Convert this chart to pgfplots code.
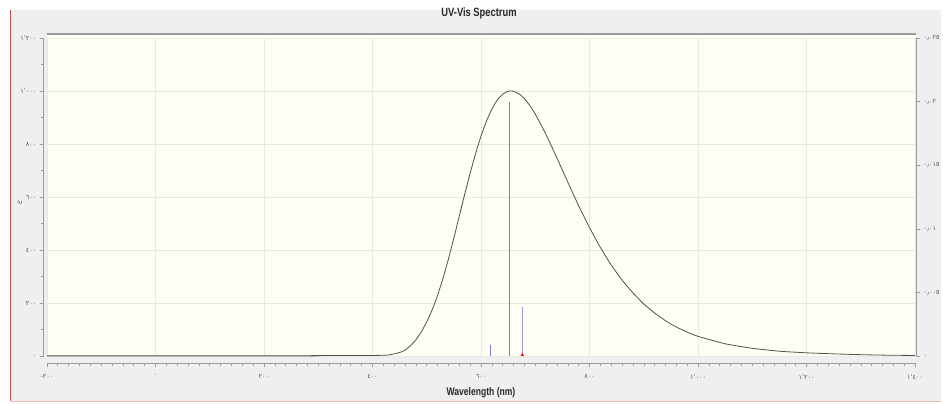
\documentclass[border=0pt]{standalone}
\usepackage{fontspec}
\usepackage{pgfplots}
\pgfplotsset{compat=1.18}
\setmainfont{Liberation Sans}
\newfontfamily\arfont{DejaVu Sans}
\newfontfamily\condfont[FakeStretch=0.78]{Liberation Sans}

\definecolor{framebg}{HTML}{EFEFF1}
\definecolor{plotbg}{HTML}{FEFEF4}
\definecolor{axisgray}{HTML}{9A9A9A}
\definecolor{gridc}{HTML}{E9E9DF}
\definecolor{labelgray}{HTML}{555555}
\definecolor{curvec}{HTML}{505050}
\definecolor{stickblue}{HTML}{7C7CC6}
\definecolor{sticklight}{HTML}{9C9CD4}

% spectrum: wavelength (nm), epsilon
\pgfplotstableread{
wl eps
-200 1.5
286 1.5
288 3
400 3
430 5
450 14
460 23
470 40
480 62
490 92
500 130
510 175
520 230
530 294
540 367
550 446
560 529
570 611
580 690
590 764
600 830
610 886
620 932
630 966
640 988
650 999
655 1000
660 999
670 989
680 971
690 945
700 913
720 835
740 747
760 656
780 567
800 485
820 410
840 344
860 287
880 239
900 197
920 163
940 134
960 110
980 91
1000 75
1050 47
1100 30
1150 19
1200 13
1250 9
1300 6
1350 4
1400 3
}\spectrum

\begin{document}
\begin{tikzpicture}[x=1pt,y=1pt]
% window background
\fill[white] (0,0) rectangle (943,404);
\fill[framebg] (11,2) rectangle (943,394);
\draw[draw={rgb,255:red,200;green,80;blue,80}, line width=1pt] (11,2) -- (11,394);
\draw[draw={rgb,255:red,235;green,185;blue,170}, line width=1pt] (11,2) -- (943,2);
% plot area
\fill[plotbg] (47,47) rectangle (918,370);
\draw[axisgray, line width=1.2pt] (47,370) -- (918,370);

\begin{axis}[
    at={(47pt,47pt)}, anchor=south west,
    scale only axis, width=870pt, height=319pt,
    xmin=-200, xmax=1400, ymin=0, ymax=1200,
    axis x line*=bottom, axis y line*=left,
    axis x line shift=7pt, axis y line shift=3pt,
    axis line style={draw=axisgray, line width=1pt, -},
    tick align=outside,
    major tick length=4pt, minor tick length=2.5pt,
    every tick/.style={axisgray, line width=0.6pt},
    xtick={-200,0,200,400,600,800,1000,1200,1400},
    minor x tick num=9,
    ytick={0,200,400,600,800,1000,1200},
    minor y tick num=1,
    xticklabels={{-٢٠٠},{٠},{٢٠٠},{٤٠٠},{٦٠٠},{٨٠٠},{١٬٠٠٠},{١٬٢٠٠},{١٬٤٠٠}},
    yticklabels={{٠},{٢٠٠},{٤٠٠},{٦٠٠},{٨٠٠},{١٬٠٠٠},{١٬٢٠٠}},
    tick label style={font=\arfont\fontsize{6.5}{7}\selectfont, text=labelgray},
    xticklabel style={yshift=-4pt},
    grid=major,
    major grid style={gridc, line width=0.6pt},
    clip=false,
]
\addplot[curvec, line width=0.8pt, smooth, tension=0.3] table[x=wl, y=eps] {\spectrum};
\end{axis}

\begin{axis}[
    at={(47pt,47pt)}, anchor=south west,
    scale only axis, width=870pt, height=319pt,
    xmin=-200, xmax=1400, ymin=0, ymax=0.025,
    axis x line=none, axis y line*=right,
    axis y line shift=1pt,
    axis line style={draw=axisgray, line width=1pt, -},
    tick align=outside,
    major tick length=4pt,
    every tick/.style={axisgray, line width=0.6pt},
    ytick={0,0.005,0.01,0.015,0.02,0.025},
    yticklabels={{٠},{٠٫٠٠٥},{٠٫٠١},{٠٫٠١٥},{٠٫٠٢},{٠٫٠٢٥}},
    tick label style={font=\arfont\fontsize{6.5}{7}\selectfont, text=labelgray},
    scaled y ticks=false,
    clip=false,
]
\addplot[ycomb, color=stickblue, line width=1.3pt] coordinates {(618,0.0009)};
\addplot[ycomb, color=stickblue, line width=1.3pt] coordinates {(653,0.0200)};
\addplot[ycomb, color=sticklight, line width=1.3pt] coordinates {(676,0.0039)};
\addplot[only marks, mark=triangle*, color=red, mark size=1.6pt] coordinates {(676,0.0001)};
\end{axis}

% title and axis labels
\node[font=\condfont\bfseries\fontsize{12}{14}\selectfont, text={rgb,255:red,40;green,40;blue,40}] at (480,391) {UV-Vis Spectrum};
\node[font=\condfont\bfseries\fontsize{11}{13}\selectfont, text={rgb,255:red,40;green,40;blue,40}] at (482,11) {Wavelength (nm)};
\node[rotate=90, font=\bfseries\fontsize{9}{10}\selectfont] at (20,201) {$\varepsilon$};
\end{tikzpicture}
\end{document}
